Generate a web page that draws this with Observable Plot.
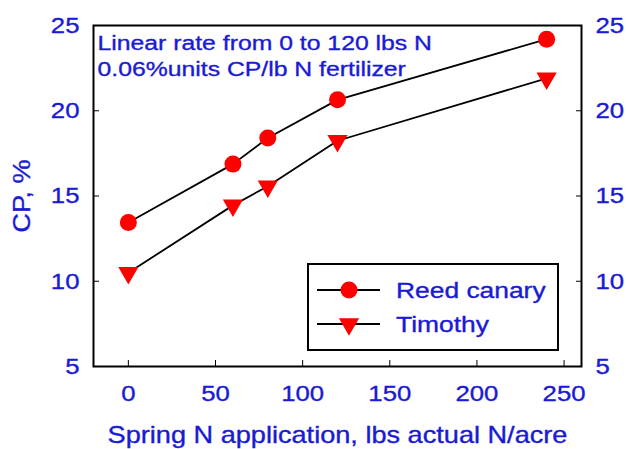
<!DOCTYPE html>
<html><head><meta charset="utf-8">
<script src="https://cdn.jsdelivr.net/npm/d3@7"></script>
<script src="https://cdn.jsdelivr.net/npm/@observablehq/plot@0.6"></script>
<style>
body{margin:0;background:#fff;}
#wrap{position:relative;width:626px;height:449px;overflow:hidden;}
</style></head><body><div id="wrap"></div>
<script>
// ---- data ----
const nRate = [0, 60, 80, 120, 240];
const reedCanary = [13.45, 16.87, 18.4, 20.64, 24.2];
const timothy = [10.5, 14.45, 15.57, 18.24, 21.9];
const seriesNames = ["Reed canary", "Timothy"];
const xTicks = [0, 50, 100, 150, 200, 250];
const yTicks = [5, 10, 15, 20, 25];
const noteLines = ["Linear rate from 0 to 120 lbs N", "0.06%units CP/lb N fertilizer"];
const xLabel = "Spring N application, lbs actual N/acre";
const yLabel = "CP, %";

const blue = "#1a1ad4";
const red = "#ff0000";
const font = "'Liberation Sans', Arial, sans-serif";

const rows = [];
nRate.forEach((n, i) => {
  rows.push({series: seriesNames[0], n, cp: reedCanary[i]});
  rows.push({series: seriesNames[1], n, cp: timothy[i]});
});

const chart = Plot.plot({
  width: 626, height: 449,
  marginLeft: 93, marginRight: 45, marginTop: 25, marginBottom: 83,
  style: {fontFamily: font, fontSize: "22px", background: "white", color: blue},
  x: {domain: [-20, 260]},
  y: {domain: [5, 25]},
  marks: [
    Plot.axisX({ticks: xTicks, tickSize: -6, tickPadding: 24, stroke: "black", fill: blue, fontSize: 23,
      label: xLabel, labelAnchor: "center", labelOffset: 76, labelArrow: "none"}),
    Plot.axisY({ticks: yTicks, anchor: "left", tickSize: -6, tickPadding: 20, stroke: "black", fill: blue, fontSize: 23,
      label: yLabel, labelAnchor: "center", labelOffset: 80, labelArrow: "none"}),
    Plot.axisY({ticks: yTicks, anchor: "right", tickSize: -6, tickPadding: 20, stroke: "black", fill: blue, fontSize: 23, label: null}),
    Plot.frame({stroke: "black", strokeWidth: 2}),
    Plot.line(rows, {x: "n", y: "cp", z: "series", stroke: "black", strokeWidth: 1.8}),
    Plot.dot(rows.filter(d => d.series === seriesNames[0]), {x: "n", y: "cp", r: 8.5, fill: red, symbol: "circle"}),
    Plot.dot(rows.filter(d => d.series === seriesNames[1]), {x: "n", y: "cp", r: 7.5, fill: red, symbol: "triangle", rotate: 180}),
    Plot.text([noteLines.join("\n")], {frameAnchor: "top-left", dx: 4, dy: 5, lineAnchor: "top", textAnchor: "start",
      fill: blue, fontSize: 21, lineHeight: 1.28})
  ]
});

const wrap = document.getElementById("wrap");
wrap.appendChild(chart);

// widen glyphs horizontally (reference font is wide) and thicken slightly
chart.querySelectorAll("text").forEach(t => {
  const tr = t.getAttribute("transform") || "";
  const isTick = t.closest("g[aria-label$='tick label']") != null;
  const s = isTick ? 1.12 : 1.18;
  t.setAttribute("transform", tr + ` scale(${s},1)`);
  t.setAttribute("stroke", blue);
  t.setAttribute("stroke-width", 0.35);
});

// ---- legend overlay ----
const leg = d3.select(wrap).append("svg")
  .attr("width", 626).attr("height", 449)
  .style("position", "absolute").style("left", "0px").style("top", "0px");
leg.append("rect").attr("x", 308).attr("y", 264).attr("width", 250).attr("height", 86)
  .attr("fill", "white").attr("stroke", "black").attr("stroke-width", 2);
const symbols = [d3.symbol(d3.symbolCircle, Math.PI * 8.5 * 8.5)(), d3.symbol(d3.symbolTriangle, Math.PI * 7.5 * 7.5)()];
seriesNames.forEach((name, i) => {
  const cy = 290 + i * 34;
  const g = leg.append("g");
  g.append("line").attr("x1", 317).attr("x2", 380).attr("y1", cy).attr("y2", cy).attr("stroke", "black").attr("stroke-width", 1.8);
  g.append("path").attr("d", symbols[i]).attr("fill", red)
    .attr("transform", `translate(349,${cy})` + (i === 1 ? " rotate(180)" : ""));
  g.append("text").text(name).attr("fill", blue).attr("stroke", blue).attr("stroke-width", 0.35)
    .attr("font-family", font).attr("font-size", 22)
    .attr("dy", "0.35em").attr("transform", `translate(396,${cy}) scale(1.2,1)`);
});
</script>
</body></html>
